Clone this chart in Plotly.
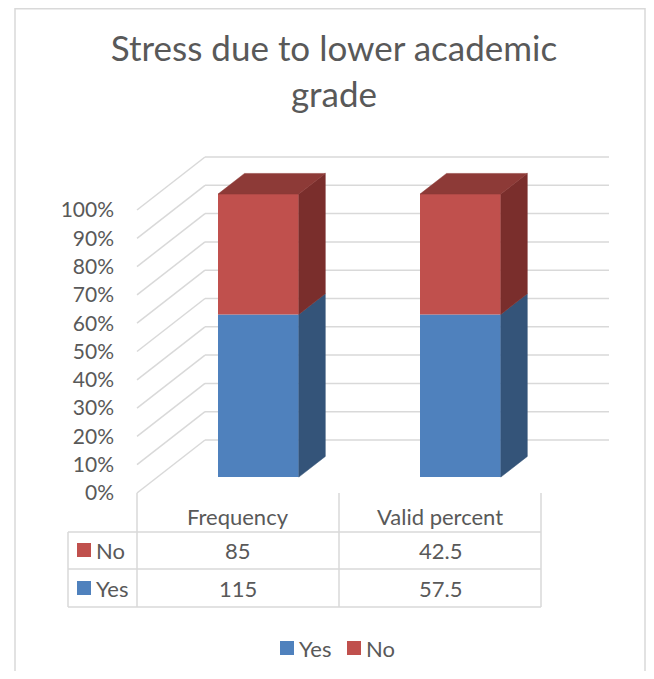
import plotly.graph_objects as go

# ---------------- data ----------------
categories = ["Frequency", "Valid percent"]
series_names = ["Yes", "No"]
yes_values = [115, 57.5]
no_values = [85, 42.5]
y_tick_values = [0, 10, 20, 30, 40, 50, 60, 70, 80, 90, 100]
y_tick_labels = ["0%", "10%", "20%", "30%", "40%", "50%", "60%", "70%", "80%", "90%", "100%"]
title_text = "Stress due to lower academic<br>grade"

# ---------------- styling / geometry ----------------
OFF = 8                     # page body margin of the html page
SW, SH = 654, 679           # screen size
W, H = SW - 2 * OFF, SH - 2 * OFF   # figure size (fits without scrollbars)
X0, XS = 238.0, 202.0       # screen px of first category (front plane), px per category
Y0, YS = 493.0, 2.83        # screen px of 0 %, px per percent
DX, DY = 68.0 / XS, 53.0 / YS   # depth of the 3-D box in data units
F0, FD, BW = 0.30, 0.39, 0.40   # bar front depth fraction, bar depth fraction, bar width

TXT = "#595959"
GRID = "#D9D9D9"
FONT = "Lato"
front_col = {"Yes": "#4F81BD", "No": "#C0504D"}
side_col = {"Yes": "#345479", "No": "#7A2E2C"}
top_col = {"Yes": "#3F6797", "No": "#8D3A37"}


def xp(px):
    return (px - OFF) / W


def yp(py):
    return 1 - (py - OFF) / H


def vy(py):
    return (Y0 - py) / YS


def ux(px):
    return (px - X0) / XS


x_range = [ux(OFF), ux(OFF + W)]
y_range = [vy(OFF + H), vy(OFF)]

# percentages per category
totals = [a + b for a, b in zip(yes_values, no_values)]
yes_pct = [a / t * 100 for a, t in zip(yes_values, totals)]
no_pct = [b / t * 100 for b, t in zip(no_values, totals)]
series = {"Yes": yes_pct, "No": no_pct}

fig = go.Figure()

xpos = [i + F0 * DX for i in range(len(categories))]
base_off = F0 * DY
bases = {"Yes": [base_off] * len(categories),
         "No": [base_off + v for v in yes_pct]}

for name in series_names:
    fig.add_trace(go.Bar(
        x=xpos, y=series[name], base=bases[name], width=BW, name=name,
        marker=dict(color=front_col[name], line=dict(width=0)),
        showlegend=False, hoverinfo="skip"))

# side and top faces
for i, xc in enumerate(xpos):
    xl, xr = xc - BW / 2, xc + BW / 2
    for name in series_names:
        b = bases[name][i]
        t = b + series[name][i]
        fig.add_trace(go.Scatter(
            x=[xr, xr + FD * DX, xr + FD * DX, xr, xr],
            y=[b, b + FD * DY, t + FD * DY, t, b],
            fill="toself", fillcolor=side_col[name], mode="lines",
            line=dict(width=0.5, color=side_col[name]),
            showlegend=False, hoverinfo="skip"))
    name = series_names[-1]
    t = bases[name][i] + series[name][i]
    fig.add_trace(go.Scatter(
        x=[xl, xr, xr + FD * DX, xl + FD * DX, xl],
        y=[t, t, t + FD * DY, t + FD * DY, t],
        fill="toself", fillcolor=top_col[name], mode="lines",
        line=dict(width=0.5, color=top_col[name]),
        showlegend=False, hoverinfo="skip"))

shapes = []
xl_wall = -0.5
xr_wall = len(categories) - 0.5
for v in y_tick_values:
    shapes.append(dict(type="line", xref="x", yref="y", layer="below",
                       x0=xl_wall, y0=v, x1=xl_wall + DX, y1=v + DY,
                       line=dict(color=GRID, width=1.5)))
    shapes.append(dict(type="line", xref="x", yref="y", layer="below",
                       x0=xl_wall + DX, y0=v + DY, x1=xr_wall + DX, y1=v + DY,
                       line=dict(color=GRID, width=1.5)))

# data table
tbl_left = ux(68)
row_lines = [532, 569, 607]
for k in range(len(categories) + 1):
    xv = k - 0.5
    shapes.append(dict(type="line", xref="x", yref="y", x0=xv, x1=xv,
                       y0=0, y1=vy(607), line=dict(color=GRID, width=1.5)))
for py in row_lines:
    shapes.append(dict(type="line", xref="x", yref="y", x0=tbl_left, x1=xr_wall,
                       y0=vy(py), y1=vy(py), line=dict(color=GRID, width=1.5)))
shapes.append(dict(type="line", xref="x", yref="y", x0=tbl_left, x1=tbl_left,
                   y0=vy(532), y1=vy(607), line=dict(color=GRID, width=1.5)))

# outer chart border
shapes.append(dict(type="rect", xref="paper", yref="paper",
                   x0=xp(15), x1=xp(OFF + W - 1), y0=yp(OFF + H + 10), y1=yp(8.8),
                   line=dict(color=GRID, width=1.5), fillcolor="rgba(0,0,0,0)"))

TS = 22
annotations = []
# header
for i, c in enumerate(categories):
    annotations.append(dict(x=i, y=vy(516), xref="x", yref="y", text=c,
                            xanchor="center", yanchor="middle",
                            showarrow=False, font=dict(family=FONT, size=TS, color=TXT)))
# rows (table order: No, Yes)
row_order = ["No", "Yes"]
row_vals = {"No": no_values, "Yes": yes_values}
row_y = [550, 588]
for r, name in enumerate(row_order):
    for i in range(len(categories)):
        val = row_vals[name][i]
        annotations.append(dict(x=i, y=vy(row_y[r]), xref="x", yref="y",
                                xanchor="center", yanchor="middle",
                                text=f"{val:g}", showarrow=False,
                                font=dict(family=FONT, size=TS, color=TXT)))
    shapes.append(dict(type="rect", xref="paper", yref="paper",
                       x0=xp(77), x1=xp(91), y0=yp(row_y[r] + 7), y1=yp(row_y[r] - 7),
                       fillcolor=front_col[name], line=dict(width=0)))
    annotations.append(dict(x=xp(94), y=yp(row_y[r]), xref="paper", yref="paper",
                            xanchor="left", yanchor="middle", text=name, showarrow=False,
                            font=dict(family=FONT, size=TS, color=TXT)))

# legend (manual, Excel-style)
leg_y = 648
leg_items = [("Yes", 280, 297), ("No", 347, 364)]
for name, sx, tx in leg_items:
    shapes.append(dict(type="rect", xref="paper", yref="paper",
                       x0=xp(sx), x1=xp(sx + 14), y0=yp(leg_y + 7), y1=yp(leg_y - 7),
                       fillcolor=front_col[name], line=dict(width=0)))
    annotations.append(dict(x=xp(tx), y=yp(leg_y), xref="paper", yref="paper",
                            xanchor="left", yanchor="middle", text=name, showarrow=False,
                            font=dict(family=FONT, size=TS, color=TXT)))

fig.update_layout(
    width=W, height=H,
    margin=dict(l=0, r=0, t=0, b=0),
    paper_bgcolor="white", plot_bgcolor="white",
    barmode="overlay", showlegend=False,
    title=dict(text=title_text, x=xp(334), xanchor="center", y=yp(61), yanchor="top",
               font=dict(family=FONT, size=35, color=TXT)),
    xaxis=dict(range=x_range, visible=False, fixedrange=True),
    yaxis=dict(range=y_range, anchor="free", position=xp(137), side="left",
               tickvals=y_tick_values, ticktext=y_tick_labels, ticks="",
               ticklabelstandoff=23, showgrid=False, zeroline=False, showline=False,
               tickfont=dict(family=FONT, size=21, color=TXT), automargin=False,
               fixedrange=True),
    shapes=shapes, annotations=annotations,
)

fig.write_html("out.html")
